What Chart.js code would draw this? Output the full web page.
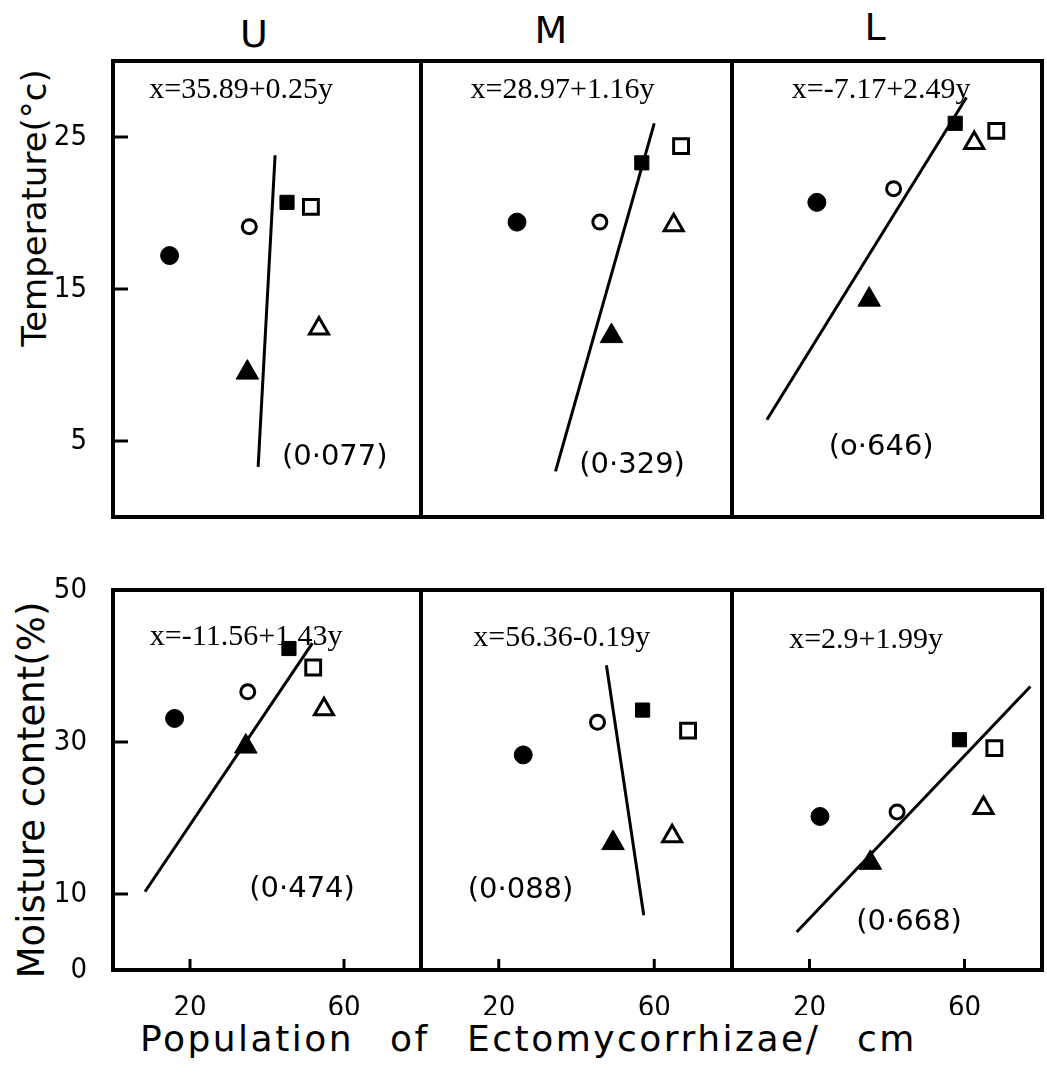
<!DOCTYPE html>
<html lang="en">
<head>
  <meta charset="utf-8">
  <title>Ectomycorrhizae vs temperature and moisture</title>
  <script src="https://cdn.jsdelivr.net/npm/chart.js@4.4.0/dist/chart.umd.min.js"></script>
  <style>
    body {
      margin: 0;
      background: #fff;
      width: 1047px;
      height: 1081px;
      position: relative;
      overflow: hidden;
      font-family: 'DejaVu Sans', sans-serif;
      color: #000;
    }
    canvas { position: absolute; }
    .lbl { position: absolute; white-space: pre; line-height: 1; }
    .head { font-size: 38px; transform: translate(-50%, -50%); }
    .ytitle { font-size: 34px; transform: translate(-50%, -50%) rotate(-90deg); }
    .xtitle { font-size: 36px; letter-spacing: 2.5px; top: 1021px; }
  </style>
</head>
<body>
  <div class="lbl head" style="left:254px; top:34px">U</div>
  <div class="lbl head" style="left:551px; top:30px">M</div>
  <div class="lbl head" style="left:875px; top:27px">L</div>

  <div class="lbl ytitle" style="left:34px; top:208px">Temperature(°c)</div>
  <div class="lbl ytitle" style="left:31px; top:790px; font-size:37px">Moisture content(%)</div>

  <div class="lbl xtitle" style="left:140px">Population</div>
  <div class="lbl xtitle" style="left:390px">of</div>
  <div class="lbl xtitle" style="left:467px">Ectomycorrhizae/</div>
  <div class="lbl xtitle" style="left:857px">cm</div>

  <script>
    // marker order in every panel:
    // filled circle, open circle, filled square, open square, filled triangle, open triangle
    var tempU_x = [14.7, 35.4, 45.2, 51.4, 34.9, 53.5];
    var tempU_y = [17.2, 19.1, 20.7, 20.4, 9.5, 12.4];
    var tempM_x = [24.7, 46.0, 56.8, 66.9, 49.0, 65.0];
    var tempM_y = [19.4, 19.4, 23.3, 24.4, 11.9, 19.2];
    var tempL_x = [21.9, 41.7, 57.6, 68.2, 35.4, 62.5];
    var tempL_y = [20.7, 21.6, 25.9, 25.4, 14.3, 24.6];

    var moistU_x = [16.0, 35.0, 45.7, 52.0, 34.5, 54.8];
    var moistU_y = [33.1, 36.6, 42.3, 39.8, 29.4, 34.3];
    var moistM_x = [26.3, 45.4, 57.0, 68.7, 49.4, 64.6];
    var moistM_y = [28.3, 32.6, 34.2, 31.5, 16.7, 17.6];
    var moistL_x = [22.7, 42.6, 58.7, 67.7, 35.7, 64.9];
    var moistL_y = [20.2, 20.8, 30.3, 29.2, 14.1, 21.3];

    // ends of the fitted lines as drawn
    var lineTempU_x = [37.7, 42.1], lineTempU_y = [3.3, 23.8];
    var lineTempM_x = [34.6, 60.0], lineTempM_y = [3.0, 25.9];
    var lineTempL_x = [9.0, 60.5],  lineTempL_y = [6.4, 27.6];
    var lineMoistU_x = [8.3, 51.8],  lineMoistU_y = [10.3, 43.0];
    var lineMoistM_x = [57.3, 47.7], lineMoistM_y = [7.2, 40.1];
    var lineMoistL_x = [16.7, 77.0], lineMoistL_y = [5.0, 37.3];

    var eqTemp = ['x=35.89+0.25y', 'x=28.97+1.16y', 'x=-7.17+2.49y'];
    var rTemp = ['(0·077)', '(0·329)', '(o·646)'];
    var eqMoist = ['x=-11.56+1.43y', 'x=56.36-0.19y', 'x=2.9+1.99y'];
    var rMoist = ['(0·474)', '(0·088)', '(0·668)'];

    var tempTicks = [5, 15, 25];
    var moistTicks = [0, 10, 30, 50];
    var popTicks = [20, 60];

    // page layout of the six boxes
    var colBox = [[113, 421], [421, 732], [732, 1042]];
    var rowBox = [[61, 517], [590, 970]];

    var markStyle = ['circle', 'circle', 'rect', 'rect', 'triangle', 'triangle'];
    var markRadius = [9, 7, 10, 10.5, 13, 11];
    var markFill = ['#000', '#fff', '#000', '#fff', '#000', '#fff'];
    var markBorder = [1, 3, 1, 3, 1, 3];

    var tickFont = { family: "'Liberation Sans Narrow', 'DejaVu Sans Condensed', 'Liberation Sans', sans-serif", size: 29 };

    var panels = [
      { row: 0, col: 0, xs: tempU_x, ys: tempU_y, lx: lineTempU_x, ly: lineTempU_y, eq: eqTemp[0], r: rTemp[0], eqAt: [33.3, 28.1], rAt: [57.6, 3.9] },
      { row: 0, col: 1, xs: tempM_x, ys: tempM_y, lx: lineTempM_x, ly: lineTempM_y, eq: eqTemp[1], r: rTemp[1], eqAt: [36.4, 28.1], rAt: [54.3, 3.4] },
      { row: 0, col: 2, xs: tempL_x, ys: tempL_y, lx: lineTempL_x, ly: lineTempL_y, eq: eqTemp[2], r: rTemp[2], eqAt: [38.5, 28.1], rAt: [38.5, 4.6] },
      { row: 1, col: 0, xs: moistU_x, ys: moistU_y, lx: lineMoistU_x, ly: lineMoistU_y, eq: eqMoist[0], r: rMoist[0], eqAt: [34.6, 43.8], rAt: [49.1, 10.6] },
      { row: 1, col: 1, xs: moistM_x, ys: moistM_y, lx: lineMoistM_x, ly: lineMoistM_y, eq: eqMoist[1], r: rMoist[1], eqAt: [36.2, 43.7], rAt: [25.6, 10.4] },
      { row: 1, col: 2, xs: moistL_x, ys: moistL_y, lx: lineMoistL_x, ly: lineMoistL_y, eq: eqMoist[2], r: rMoist[2], eqAt: [34.6, 43.4], rAt: [45.7, 6.3] }
    ];

    // frame, inward tick marks and the panel texts
    var panelDecor = {
      id: 'panelDecor',
      afterDatasetsDraw: function (chart) {
        var p = chart.canvas._panel;
        var a = chart.chartArea, ctx = chart.ctx;
        var sx = chart.scales.x, sy = chart.scales.y;
        ctx.save();
        ctx.strokeStyle = '#000';
        ctx.lineWidth = 3;
        if (p.col === 0) {
          (p.row === 0 ? tempTicks : moistTicks).forEach(function (v) {
            var py = sy.getPixelForValue(v);
            ctx.beginPath(); ctx.moveTo(a.left, py); ctx.lineTo(a.left + 15, py); ctx.stroke();
          });
        }
        if (p.row === 1) {
          popTicks.forEach(function (v) {
            var px = sx.getPixelForValue(v);
            ctx.beginPath(); ctx.moveTo(px, a.bottom); ctx.lineTo(px, a.bottom - 11); ctx.stroke();
          });
        }
        ctx.lineWidth = 4;
        ctx.strokeRect(a.left, a.top, a.right - a.left, a.bottom - a.top);

        ctx.fillStyle = '#000';
        ctx.textAlign = 'center';
        ctx.textBaseline = 'middle';
        ctx.font = "30px 'Liberation Serif', serif";
        ctx.fillText(p.eq, sx.getPixelForValue(p.eqAt[0]), sy.getPixelForValue(p.eqAt[1]));
        ctx.font = "29px 'DejaVu Sans', sans-serif";
        ctx.fillText(p.r, sx.getPixelForValue(p.rAt[0]), sy.getPixelForValue(p.rAt[1]));
        ctx.restore();
      }
    };

    panels.forEach(function (p) {
      var left = p.col === 0 ? 0 : colBox[p.col][0] - 8;
      var right = p.col === 2 ? 1047 : colBox[p.col][1] + 8;
      var top = rowBox[p.row][0] - 30;
      var bottom = p.row === 0 ? rowBox[0][1] + 8 : rowBox[1][1] + 45;

      var cv = document.createElement('canvas');
      cv.width = right - left;
      cv.height = bottom - top;
      cv.style.left = left + 'px';
      cv.style.top = top + 'px';
      cv._panel = p;
      document.body.appendChild(cv);

      var marks = p.xs.map(function (x, i) { return { x: x, y: p.ys[i] }; });
      var fit = p.lx.map(function (x, i) { return { x: x, y: p.ly[i] }; });
      var yTicks = p.row === 0 ? tempTicks : moistTicks;

      new Chart(cv, {
        type: 'scatter',
        data: {
          datasets: [{
            data: marks,
            pointStyle: markStyle,
            pointRadius: markRadius,
            backgroundColor: markFill,
            borderColor: '#000',
            borderWidth: markBorder,
            order: 0
          }, {
            data: fit,
            showLine: true,
            borderColor: '#000',
            borderWidth: 3,
            pointRadius: 0,
            order: 1
          }]
        },
        options: {
          responsive: false,
          animation: false,
          events: [],
          layout: {
            autoPadding: false,
            padding: {
              left: p.col === 0 ? 0 : 8,
              right: right - colBox[p.col][1],
              top: 30,
              bottom: p.row === 0 ? 8 : 0
            }
          },
          plugins: {
            legend: { display: false },
            tooltip: { enabled: false }
          },
          scales: {
            x: {
              type: 'linear',
              min: 0,
              max: 80,
              display: p.row === 1,
              grid: { display: false },
              border: { display: false },
              ticks: { color: '#000', font: tickFont, padding: 13, maxRotation: 0 },
              afterBuildTicks: function (s) { s.ticks = popTicks.map(function (v) { return { value: v }; }); },
              afterFit: function (s) {
                if (!s.options.display) return;
                s.height = 45; s.paddingLeft = 0; s.paddingRight = 0;
              }
            },
            y: {
              type: 'linear',
              min: 0,
              max: p.row === 0 ? 30 : 50,
              display: p.col === 0,
              grid: { display: false },
              border: { display: false },
              ticks: { color: '#000', font: tickFont, padding: 18 },
              afterBuildTicks: function (s) { s.ticks = yTicks.map(function (v) { return { value: v }; }); },
              afterFit: function (s) {
                if (!s.options.display) return;
                s.width = 113; s.paddingTop = 0; s.paddingBottom = 0;
              }
            }
          }
        },
        plugins: [panelDecor]
      });
    });
  </script>
</body>
</html>
